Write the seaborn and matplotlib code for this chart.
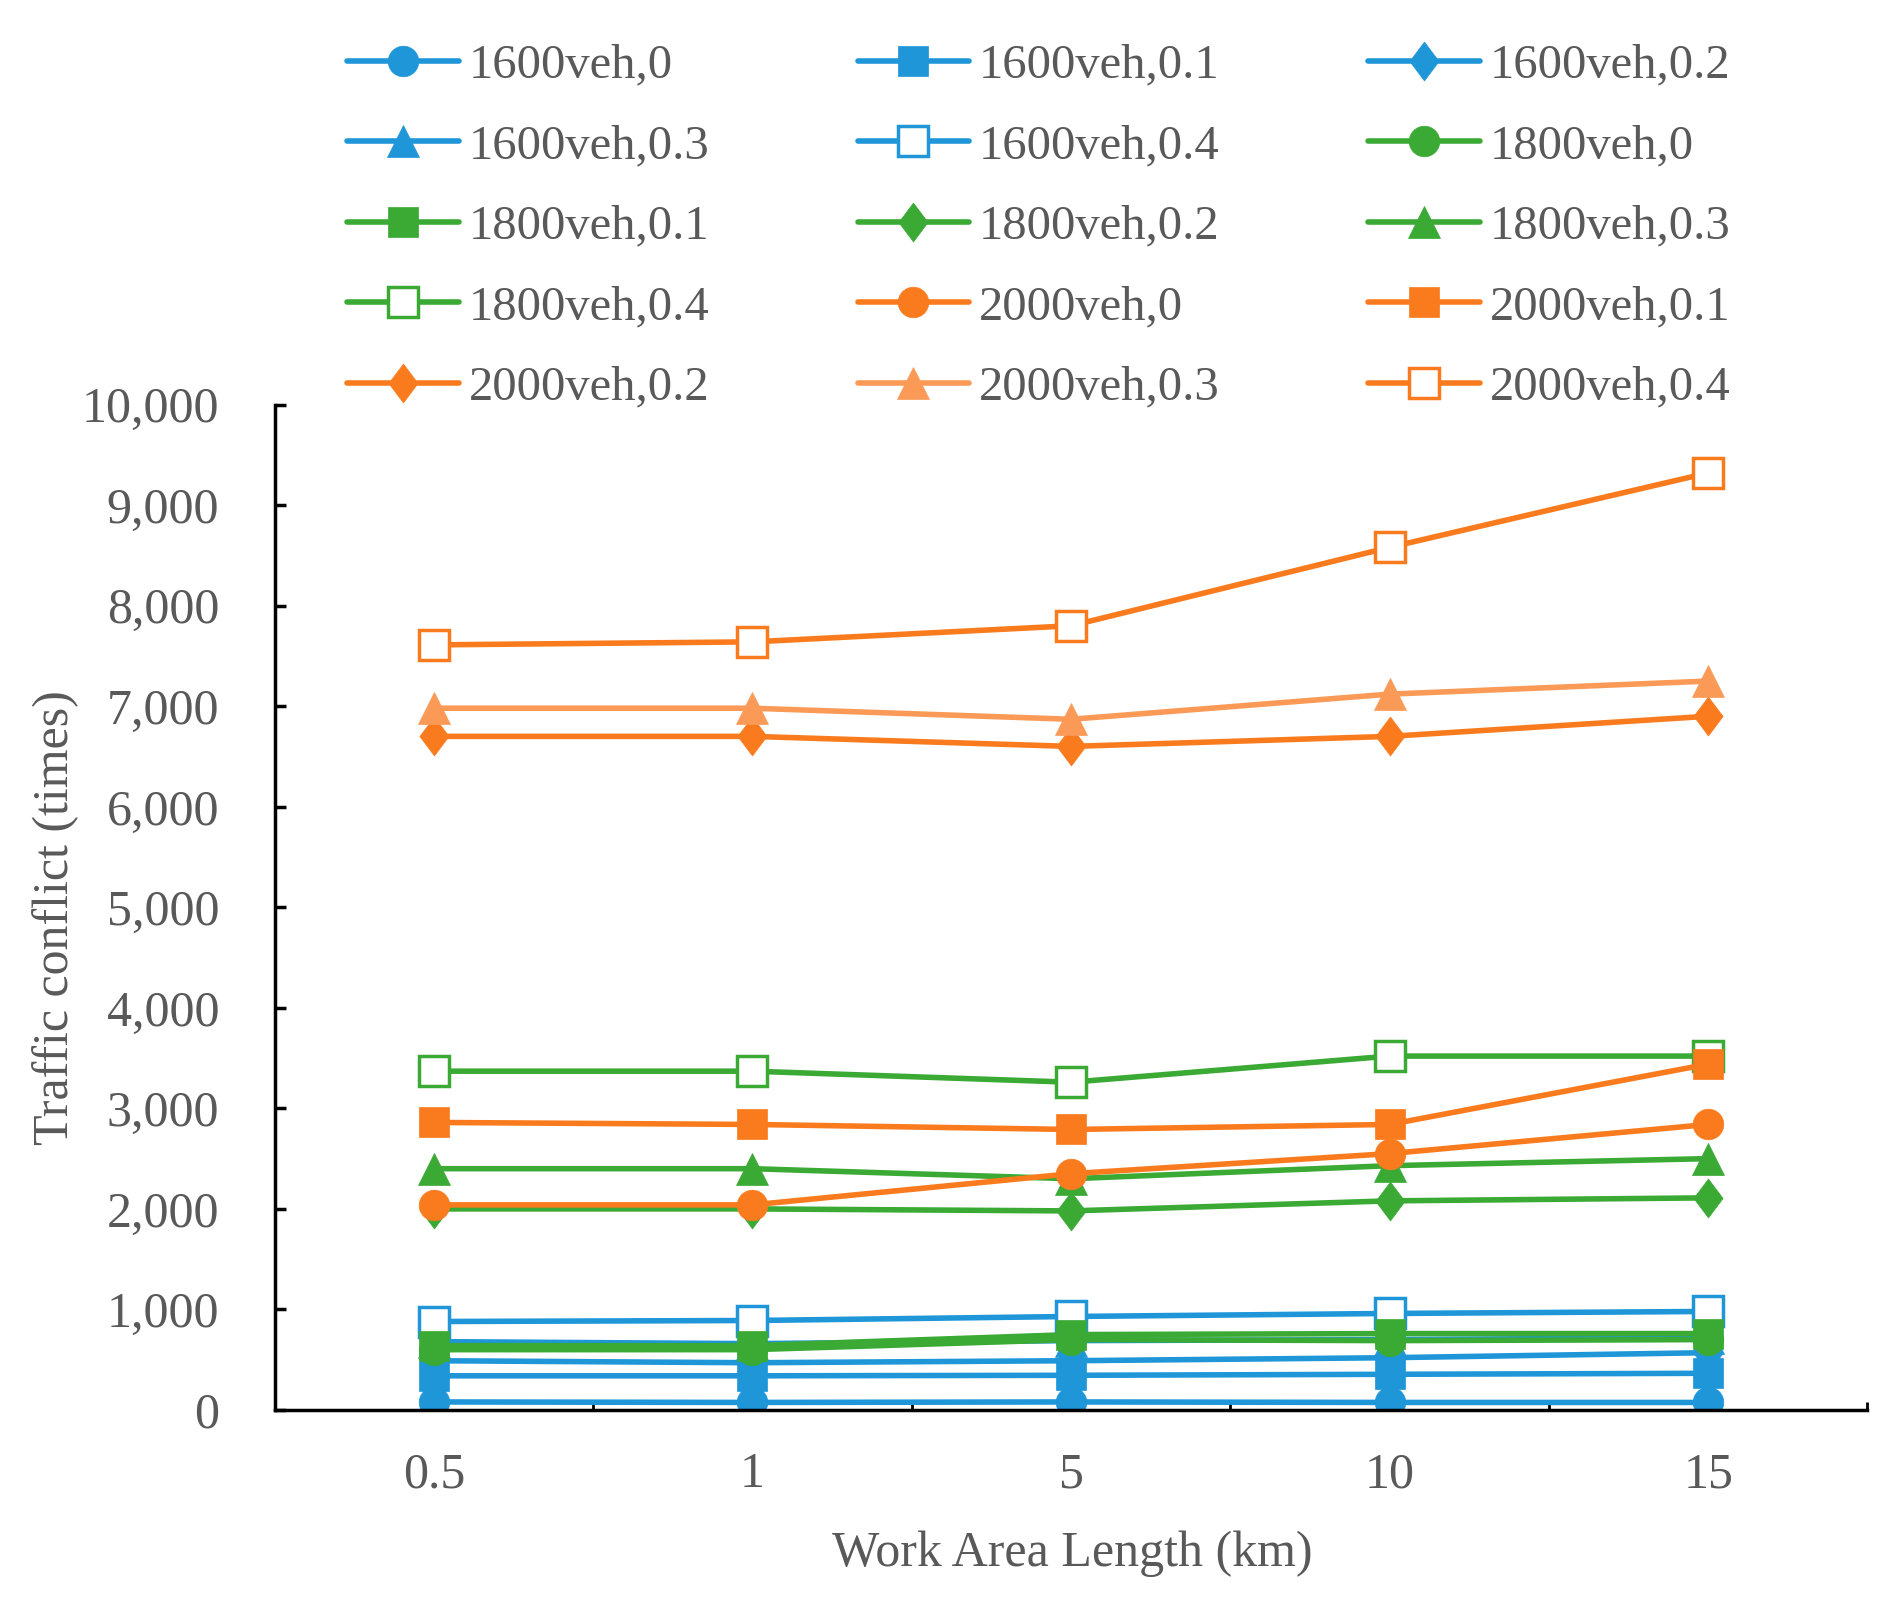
import matplotlib
matplotlib.use("Agg")
import matplotlib.pyplot as plt
import seaborn as sns
import numpy as np
import pandas as pd

# work area lengths (categorical x axis)
lengths = ["0.5", "1", "5", "10", "15"]

# traffic conflicts
v1600_0 = [80, 75, 80, 75, 75]
v1600_01 = [340, 340, 345, 355, 365]
v1600_02 = [490, 470, 490, 520, 570]
v1600_03 = [680, 660, 690, 700, 720]
v1600_04 = [880, 890, 930, 960, 980]
v1800_0 = [600, 600, 700, 690, 700]
v1800_01 = [640, 640, 750, 760, 760]
v1800_02 = [2000, 2000, 1980, 2080, 2110]
v1800_03 = [2400, 2400, 2300, 2430, 2500]
v1800_04 = [3370, 3370, 3260, 3520, 3520]
v2000_0 = [2040, 2040, 2350, 2550, 2840]
v2000_01 = [2860, 2840, 2790, 2840, 3440]
v2000_02 = [6700, 6700, 6600, 6700, 6900]
v2000_03 = [6980, 6980, 6870, 7120, 7250]
v2000_04 = [7610, 7640, 7800, 8580, 9320]

series_names = ["1600veh,0", "1600veh,0.1", "1600veh,0.2", "1600veh,0.3", "1600veh,0.4",
                "1800veh,0", "1800veh,0.1", "1800veh,0.2", "1800veh,0.3", "1800veh,0.4",
                "2000veh,0", "2000veh,0.1", "2000veh,0.2", "2000veh,0.3", "2000veh,0.4"]
series_values = [v1600_0, v1600_01, v1600_02, v1600_03, v1600_04,
                 v1800_0, v1800_01, v1800_02, v1800_03, v1800_04,
                 v2000_0, v2000_01, v2000_02, v2000_03, v2000_04]

blue = "#1E96D8"
green = "#3AAA35"
orange = "#FA7B1E"
light_orange = "#FB9A57"
text_col = "#595959"

diamond = [(0, 1), (0.75, 0), (0, -1), (-0.75, 0), (0, 1)]
marker_styles = [("o", 22, False), ("s", 21, False), (diamond, 28, False), ("^", 23, False), ("s", 21, True)]
series_colors = [blue] * 5 + [green] * 5 + [orange] * 3 + [light_orange] + [orange]

sns.set_theme(style="white")
plt.rcParams["font.family"] = ["Liberation Serif", "DejaVu Serif"]

fig = plt.figure(figsize=(19.03, 16.19), dpi=100)
ax = fig.add_axes([0.1443, 0.1291, 0.837, 0.621])

x_pos = np.arange(len(lengths))
handles = []
for i, (name, vals) in enumerate(zip(series_names, series_values)):
    mk, ms, hollow = marker_styles[i % 5]
    col = series_colors[i]
    df = pd.DataFrame({"x": x_pos, "y": vals})
    n_before = len(ax.lines)
    sns.lineplot(data=df, x="x", y="y", ax=ax, color=col, linewidth=4,
                 marker=mk, markersize=ms, legend=False,
                 markerfacecolor="white" if hollow else col,
                 markeredgecolor=col, markeredgewidth=2.5 if hollow else 0.5)
    line = ax.lines[n_before]
    handles.append(line)

if ax.get_legend() is not None:
    ax.get_legend().remove()

ax.set_xlim(-0.5, 4.5)
ax.set_ylim(0, 10000)
ax.set_xticks(x_pos)
ax.set_xticklabels(lengths)
ax.set_xticks(np.arange(0.5, 5, 1), minor=True)
ax.set_yticks(np.arange(0, 10001, 1000))
ax.yaxis.set_major_formatter(matplotlib.ticker.FuncFormatter(lambda v, p: f"{int(v):,}"))

for s in ["top", "right"]:
    ax.spines[s].set_visible(False)
for s in ["left", "bottom"]:
    ax.spines[s].set_color("black")
    ax.spines[s].set_linewidth(2.5)

ax.tick_params(axis="x", which="major", length=0, pad=30, labelsize=36, labelcolor=text_col)
ax.tick_params(axis="x", which="minor", direction="in", length=6, width=2, color="black", bottom=True)
ax.tick_params(axis="y", which="major", direction="in", length=8, width=2.5, color="black",
               pad=40, labelsize=36, labelcolor=text_col, left=True)

ax.set_xlabel("Work Area Length (km)", fontsize=36, color=text_col)
ax.set_ylabel("Traffic conflict (times)", fontsize=36, color=text_col)
ax.xaxis.set_label_coords(0.501, -0.12)
ax.yaxis.set_label_coords(-0.123, 0.49)

order = [i for c in range(3) for i in range(c, 15, 3)]
fig.legend([handles[i] for i in order], [series_names[i] for i in order],
           ncol=3, loc="upper left", bbox_to_anchor=(347 / 1903, 0.973),
           frameon=False, borderpad=0, borderaxespad=0, handlelength=2.3,
           handletextpad=0.2, columnspacing=3.05, labelspacing=0.75,
           fontsize=35, labelcolor=text_col, numpoints=1)

fig.savefig("out.png", dpi=100)
